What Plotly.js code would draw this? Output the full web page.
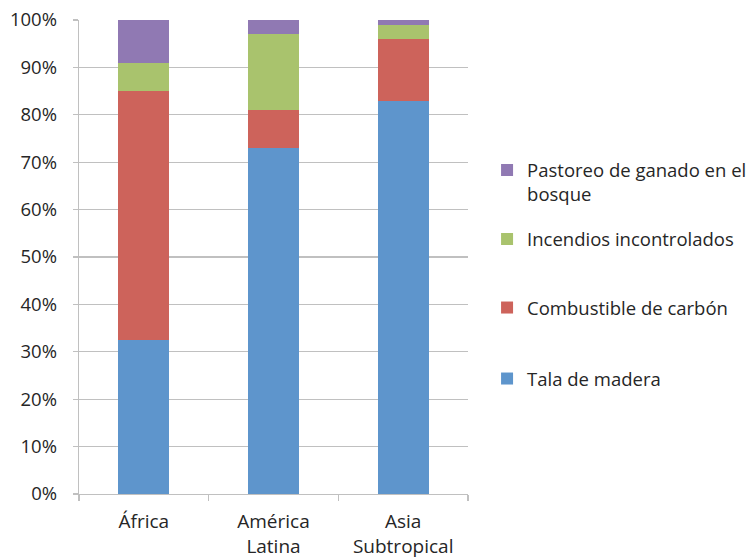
<!DOCTYPE html>
<html>
<head>
<meta charset="utf-8">
<script src="https://cdn.plot.ly/plotly-3.0.1.min.js"></script>
<style>
  html, body { margin: 0; padding: 0; background: #fff; }
  #chart { width: 753px; height: 559px; }
</style>
</head>
<body>
<div id="chart"></div>
<script>
// Regions (x categories)
const regions = ['África', 'América<br>Latina', 'Asia<br>Subtropical'];

// Share of each cause of forest loss, percent
const talaMadera = [32.5, 73, 83];
const combustibleCarbon = [52.5, 8, 13];
const incendios = [6, 16, 3];
const pastoreo = [9, 3, 1];

// Legend labels
const seriesNames = [
  'Tala de madera',
  'Combustible de carbón',
  'Incendios incontrolados',
  'Pastoreo de ganado en el<br>bosque'
];

const colors = ['#5E95CC', '#CD635B', '#A9C36D', '#9079B3'];
const seriesValues = [talaMadera, combustibleCarbon, incendios, pastoreo];
const legendIds = ['legend', 'legend2', 'legend3', 'legend4'];

const FONT = 'Open Sans';
const SIZE = 18.5;
const TEXT = '#262626';
const GRID = '#c0c0c0';

const traces = seriesValues.map((vals, i) => ({
  type: 'bar',
  name: seriesNames[i],
  x: regions,
  y: vals,
  marker: { color: colors[i], line: { width: 0 } },
  legend: legendIds[i],
  hoverinfo: 'name+y'
}));

// one single-entry legend per series, so each entry sits at its own height
function legendAt(yFrac) {
  return {
    x: 1.049, xanchor: 'left',
    y: yFrac, yanchor: 'middle',
    bgcolor: 'rgba(0,0,0,0)',
    borderwidth: 0,
    itemwidth: 30,
    valign: 'top',
    font: { family: FONT, size: SIZE, color: TEXT }
  };
}

const layout = {
  width: 753,
  height: 559,
  margin: { l: 79, r: 285, t: 20, b: 65, autoexpand: false },
  paper_bgcolor: '#ffffff',
  plot_bgcolor: '#ffffff',
  barmode: 'stack',
  bargap: 0.607,
  font: { family: FONT, size: SIZE, color: TEXT },
  xaxis: {
    type: 'category',
    showgrid: false,
    showline: true,
    linecolor: GRID,
    linewidth: 1.3,
    ticks: 'outside',
    tickson: 'boundaries',
    ticklen: 6,
    tickcolor: GRID,
    tickwidth: 1.3,
    ticklabelstandoff: 10,
    tickfont: { family: FONT, size: 19, color: TEXT },
    fixedrange: true
  },
  yaxis: {
    range: [0, 100],
    dtick: 10,
    tick0: 0,
    ticksuffix: '%',
    showgrid: true,
    gridcolor: GRID,
    gridwidth: 1.3,
    zeroline: false,
    showline: true,
    linecolor: GRID,
    linewidth: 1.3,
    ticks: 'outside',
    ticklen: 5,
    tickcolor: GRID,
    tickwidth: 1.3,
    ticklabelstandoff: 12,
    tickfont: { family: FONT, size: SIZE, color: TEXT },
    fixedrange: true
  },
  showlegend: true,
  legend: legendAt((494 - 379) / 474),
  legend2: legendAt((494 - 308) / 474),
  legend3: legendAt((494 - 239.5) / 474),
  legend4: legendAt((494 - 182.5) / 474)
};

Plotly.newPlot('chart', traces, layout, { displayModeBar: false, staticPlot: true });
</script>
</body>
</html>
